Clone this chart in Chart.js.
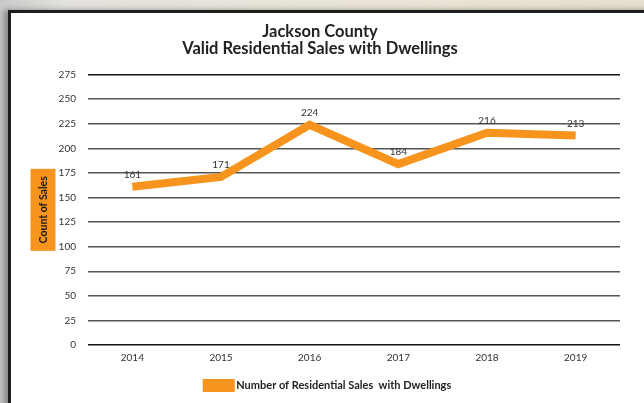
<!DOCTYPE html>
<html>
<head>
<meta charset="utf-8">
<script src="https://cdn.jsdelivr.net/npm/chart.js@4.4.1/dist/chart.umd.min.js"></script>
<style>
  html, body { margin: 0; padding: 0; }
  body {
    width: 644px; height: 403px; overflow: hidden; position: relative;
    background: linear-gradient(90deg, #c9c9c9 0%, #e4e2dd 10%, #ebe5d8 60%, #e6dfcf 100%);
  }
  #box {
    position: absolute; left: 8px; top: 10px; width: 660px; height: 420px;
    background: #fff; border: 3px solid #1e1e1e; box-sizing: border-box;
    box-shadow: -4px 0 6px rgba(0,0,0,0.35);
  }
  #wrap { position: absolute; left: 0; top: 0; width: 644px; height: 403px; }
</style>
</head>
<body>
<div id="box"></div>
<div id="wrap"><canvas id="c" width="644" height="403"></canvas></div>
<script>
const years = ['2014', '2015', '2016', '2017', '2018', '2019'];
const sales = [161, 171, 224, 184, 216, 213];
const yTicks = [0, 25, 50, 75, 100, 125, 150, 175, 200, 225, 250, 275];
const titleLines = ['Jackson County', 'Valid Residential Sales with Dwellings'];
const seriesLabel = 'Number of Residential Sales  with Dwellings';
const yTitle = 'Count of Sales';

const ORANGE = '#F7941D';
const FONT = 'Lato, "Open Sans", sans-serif';

const shift = {
  id: 'shift',
  afterLayout(chart) {
    if (chart.legend) { chart.legend.left += 14; chart.legend.right += 14; }
    if (chart.titleBlock) { chart.titleBlock.left += 5; chart.titleBlock.right += 5; }
  }
};

const decor = {
  id: 'decor',
  afterDraw(chart) {
    const ctx = chart.ctx;
    const a = chart.chartArea;
    const cx = a.left - 45, cy = (a.top + a.bottom) / 2;
    ctx.save();
    ctx.fillStyle = ORANGE;
    ctx.fillRect(cx - 12.5, cy - 41, 25, 82);
    ctx.translate(cx, cy);
    ctx.rotate(-Math.PI / 2);
    ctx.fillStyle = '#1a1a1a';
    ctx.font = 'bold 10.5px ' + FONT;
    ctx.textAlign = 'center';
    ctx.textBaseline = 'middle';
    ctx.fillText(yTitle, 0, 1);
    ctx.restore();
    const meta = chart.getDatasetMeta(0);
    ctx.save();
    ctx.fillStyle = '#333';
    ctx.font = '10px ' + FONT;
    ctx.textAlign = 'center';
    ctx.textBaseline = 'bottom';
    meta.data.forEach((p, i) => {
      ctx.fillText(String(sales[i]), p.x, p.y - 7);
    });
    ctx.restore();
  }
};

new Chart(document.getElementById('c'), {
  type: 'line',
  data: {
    labels: years,
    datasets: [{
      label: seriesLabel,
      data: sales,
      borderColor: ORANGE,
      backgroundColor: ORANGE,
      borderWidth: 8,
      tension: 0,
      pointRadius: 0,
      pointHoverRadius: 0,
      borderJoinStyle: 'miter',
      borderCapStyle: 'butt',
      fill: false
    }]
  },
  options: {
    responsive: false,
    animation: false,
    events: [],
    layout: { padding: { left: 10, right: 24, top: 23, bottom: 2 } },
    plugins: {
      title: {
        display: true,
        text: titleLines,
        color: '#222',
        font: { family: FONT, size: 16.5, weight: 'bold', lineHeight: 1.05 },
        padding: { top: 0, bottom: 17 }
      },
      legend: {
        position: 'bottom',
        labels: {
          color: '#222',
          font: { family: FONT, size: 11, weight: 'bold' },
          boxWidth: 24,
          boxHeight: 5,
          padding: 9,
          useBorderRadius: false
        }
      },
      tooltip: { enabled: false }
    },
    scales: {
      x: {
        type: 'category',
        offset: true,
        grid: { display: false, drawTicks: false },
        border: { display: false },
        ticks: { color: '#333', font: { family: FONT, size: 10 }, padding: 7, maxRotation: 0 }
      },
      y: {
        min: 0,
        max: 275,
        afterBuildTicks(scale) { scale.ticks = yTicks.map(v => ({ value: v })); },
        afterFit(scale) { scale.width = 78; },
        grid: {
          drawTicks: false,
          lineWidth: 1.5,
          color: (c) => (c.tick && (c.tick.value === 0 || c.tick.value === 275)) ? '#111' : '#555'
        },
        border: { display: false },
        ticks: { color: '#333', font: { family: FONT, size: 10 }, padding: 12 }
      }
    }
  },
  plugins: [shift, decor]
});
</script>
</body>
</html>
